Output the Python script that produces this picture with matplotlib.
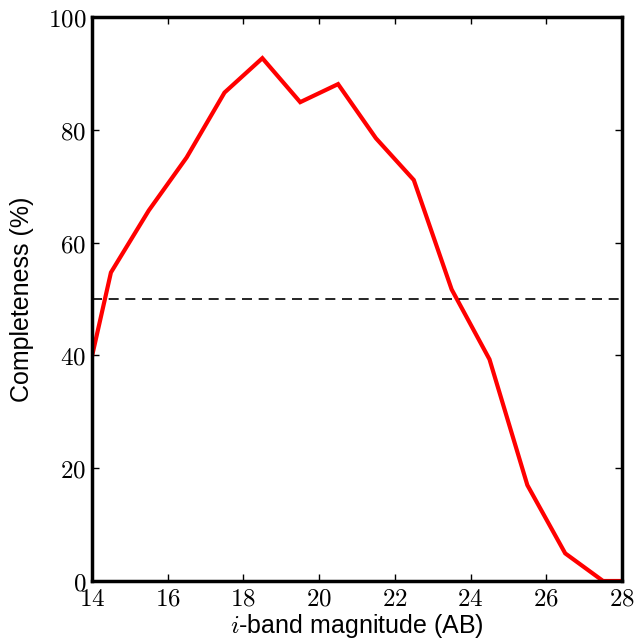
import matplotlib
matplotlib.use("Agg")
import matplotlib.pyplot as plt
from matplotlib.ticker import FuncFormatter

mag = [13.5, 14.5, 15.5, 16.5, 17.5, 18.5, 19.5, 20.5, 21.5, 22.5, 23.5, 24.5, 25.5, 26.5, 27.5, 28.5]
completeness = [25.0, 54.7, 65.7, 75.1, 86.6, 92.7, 84.9, 88.1, 78.5, 71.1, 51.7, 39.3, 17.0, 4.9, 0.0, 0.0]
threshold = 50
xticks = [14, 16, 18, 20, 22, 24, 26, 28]
yticks = [0, 20, 40, 60, 80, 100]

plt.rcParams['mathtext.fontset'] = 'cm'

fig = plt.figure(figsize=(6.43, 6.40), dpi=100)
ax = fig.add_axes([92/643, 1-581/640, 530/643, 564/640])

ax.plot(mag, completeness, color='red', lw=3.0, solid_joinstyle='miter', clip_on=True)
ax.axhline(threshold, color='black', lw=1.2, ls=(0, (6, 4)))

ax.set_xlim(14, 28)
ax.set_ylim(0, 100)
ax.set_xticks(xticks)
ax.set_yticks(yticks)
fmt = FuncFormatter(lambda v, p: r'$%d$' % v)
ax.xaxis.set_major_formatter(fmt)
ax.yaxis.set_major_formatter(fmt)
ax.tick_params(direction='in', length=5, width=1, top=True, right=True,
               labelsize=18, pad=4)
for s in ax.spines.values():
    s.set_linewidth(2.5)

lab = dict(family=['Liberation Sans', 'DejaVu Sans'], fontsize=18)
ax.set_xlabel(r'$i$-band magnitude (AB)', labelpad=1, **lab)
ax.set_ylabel('Completeness (%)', labelpad=10, **lab)

fig.savefig('out.png', dpi=100)
